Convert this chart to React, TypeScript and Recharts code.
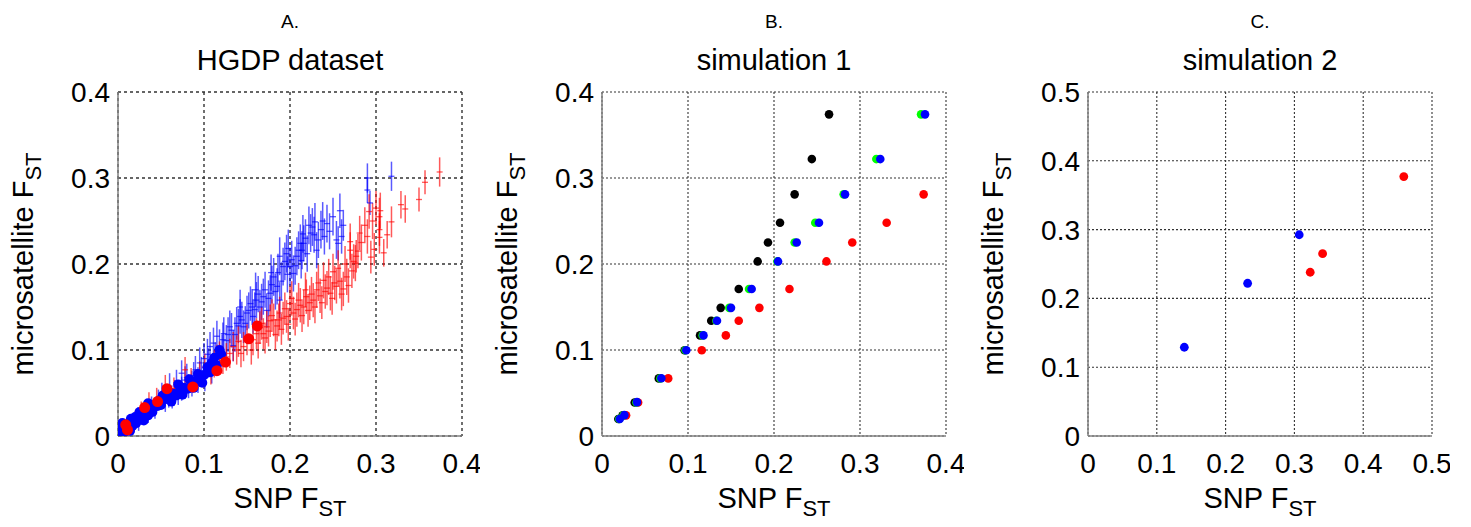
import React from 'react';
import { ScatterChart, Scatter, XAxis, YAxis, CartesianGrid, ErrorBar, Label } from 'recharts';

const FONT = '"Liberation Sans", Arial, Helvetica, sans-serif';

// axis ticks
const ticksA = [0, 0.1, 0.2, 0.3, 0.4];
const ticksB = [0, 0.1, 0.2, 0.3, 0.4];
const ticksC = [0, 0.1, 0.2, 0.3, 0.4, 0.5];

// panel titles
const letters = ['A.', 'B.', 'C.'];
const titles = ['HGDP dataset', 'simulation 1', 'simulation 2'];

// A. HGDP: [snp Fst, microsat Fst, microsat error]
const hgdpBlueBars: number[][] = [
  [0.004, 0.005, 0.006], [0.008, 0.004, 0.005], [0.012, 0.011, 0.008], [0.016, 0.008, 0.007],
  [0.020, 0.017, 0.009], [0.024, 0.014, 0.008], [0.028, 0.023, 0.010], [0.032, 0.029, 0.011],
  [0.035, 0.025, 0.010], [0.039, 0.034, 0.012], [0.043, 0.031, 0.011], [0.047, 0.042, 0.012],
  [0.051, 0.049, 0.013], [0.055, 0.040, 0.012], [0.059, 0.046, 0.013], [0.060, 0.058, 0.015],
  [0.063, 0.044, 0.012], [0.066, 0.052, 0.013], [0.068, 0.062, 0.015], [0.070, 0.050, 0.014],
  [0.074, 0.055, 0.014], [0.074, 0.073, 0.015], [0.078, 0.065, 0.016], [0.080, 0.068, 0.016],
  [0.082, 0.058, 0.014], [0.086, 0.061, 0.015], [0.088, 0.070, 0.016], [0.090, 0.077, 0.016],
  [0.093, 0.065, 0.015], [0.095, 0.085, 0.018], [0.097, 0.075, 0.017], [0.100, 0.090, 0.018],
  [0.101, 0.068, 0.016], [0.104, 0.095, 0.018], [0.105, 0.085, 0.017], [0.107, 0.104, 0.017],
  [0.109, 0.077, 0.016], [0.111, 0.108, 0.018], [0.113, 0.092, 0.017], [0.115, 0.116, 0.018],
  [0.118, 0.104, 0.020], [0.121, 0.100, 0.018], [0.122, 0.112, 0.020], [0.123, 0.119, 0.019],
  [0.126, 0.111, 0.018], [0.128, 0.118, 0.020], [0.130, 0.127, 0.019], [0.132, 0.123, 0.020],
  [0.134, 0.105, 0.018], [0.136, 0.118, 0.020], [0.138, 0.131, 0.019], [0.140, 0.128, 0.020],
  [0.142, 0.139, 0.020], [0.142, 0.150, 0.020], [0.144, 0.135, 0.021], [0.146, 0.127, 0.019],
  [0.148, 0.131, 0.020], [0.150, 0.143, 0.020], [0.152, 0.146, 0.021], [0.154, 0.154, 0.020],
  [0.156, 0.150, 0.021], [0.157, 0.139, 0.020], [0.159, 0.147, 0.020], [0.160, 0.170, 0.020],
  [0.161, 0.158, 0.021], [0.163, 0.165, 0.021], [0.165, 0.150, 0.020], [0.167, 0.156, 0.021],
  [0.169, 0.162, 0.021], [0.171, 0.170, 0.021], [0.173, 0.146, 0.020], [0.175, 0.160, 0.021],
  [0.177, 0.166, 0.021], [0.178, 0.190, 0.021], [0.179, 0.176, 0.022], [0.181, 0.185, 0.022],
  [0.183, 0.168, 0.021], [0.185, 0.174, 0.021], [0.186, 0.190, 0.022], [0.188, 0.158, 0.021],
  [0.188, 0.209, 0.022], [0.190, 0.180, 0.022], [0.192, 0.197, 0.022], [0.194, 0.203, 0.022],
  [0.196, 0.212, 0.022], [0.197, 0.188, 0.021], [0.198, 0.218, 0.022], [0.200, 0.197, 0.022],
  [0.202, 0.205, 0.022], [0.204, 0.189, 0.021], [0.206, 0.198, 0.022], [0.208, 0.209, 0.022],
  [0.210, 0.216, 0.022], [0.212, 0.224, 0.022], [0.213, 0.204, 0.021], [0.214, 0.216, 0.022],
  [0.215, 0.235, 0.022], [0.216, 0.224, 0.021], [0.218, 0.230, 0.022], [0.220, 0.212, 0.021],
  [0.222, 0.245, 0.022], [0.224, 0.236, 0.022], [0.226, 0.243, 0.022], [0.228, 0.234, 0.021],
  [0.229, 0.249, 0.022], [0.231, 0.216, 0.021], [0.233, 0.228, 0.021], [0.236, 0.240, 0.022],
  [0.238, 0.250, 0.022], [0.240, 0.232, 0.021], [0.243, 0.247, 0.022], [0.246, 0.238, 0.021],
  [0.250, 0.255, 0.022], [0.254, 0.228, 0.022], [0.256, 0.224, 0.020], [0.258, 0.262, 0.020],
  [0.260, 0.232, 0.020], [0.262, 0.245, 0.018], [0.290, 0.300, 0.017], [0.290, 0.286, 0.015],
  [0.293, 0.271, 0.014], [0.318, 0.302, 0.017],
];

const hgdpRedBars: number[][] = [
  [0.012, 0.012, 0.008], [0.020, 0.020, 0.009], [0.027, 0.030, 0.010], [0.036, 0.040, 0.011],
  [0.045, 0.044, 0.012], [0.055, 0.058, 0.013], [0.065, 0.055, 0.013], [0.078, 0.077, 0.015],
  [0.085, 0.065, 0.014], [0.095, 0.072, 0.015], [0.101, 0.080, 0.016], [0.108, 0.075, 0.015],
  [0.112, 0.084, 0.016], [0.115, 0.090, 0.016], [0.118, 0.094, 0.016], [0.122, 0.088, 0.016],
  [0.126, 0.092, 0.016], [0.130, 0.096, 0.017], [0.134, 0.104, 0.017], [0.138, 0.100, 0.017],
  [0.140, 0.110, 0.018], [0.143, 0.096, 0.016], [0.146, 0.104, 0.017], [0.150, 0.112, 0.018],
  [0.155, 0.100, 0.017], [0.157, 0.112, 0.018], [0.161, 0.119, 0.018], [0.163, 0.108, 0.018],
  [0.165, 0.126, 0.019], [0.167, 0.131, 0.019], [0.169, 0.119, 0.018], [0.171, 0.114, 0.018],
  [0.173, 0.127, 0.019], [0.175, 0.122, 0.018], [0.177, 0.134, 0.019], [0.179, 0.140, 0.019],
  [0.181, 0.135, 0.019], [0.183, 0.118, 0.018], [0.185, 0.128, 0.018], [0.187, 0.135, 0.019],
  [0.188, 0.143, 0.019], [0.190, 0.124, 0.018], [0.192, 0.137, 0.019], [0.194, 0.148, 0.019],
  [0.196, 0.139, 0.019], [0.198, 0.130, 0.019], [0.200, 0.154, 0.020], [0.202, 0.160, 0.020],
  [0.204, 0.143, 0.019], [0.206, 0.136, 0.019], [0.208, 0.147, 0.020], [0.210, 0.158, 0.020],
  [0.212, 0.152, 0.020], [0.214, 0.140, 0.019], [0.216, 0.150, 0.020], [0.218, 0.170, 0.020],
  [0.219, 0.162, 0.020], [0.221, 0.146, 0.019], [0.223, 0.155, 0.020], [0.225, 0.165, 0.020],
  [0.227, 0.158, 0.020], [0.229, 0.150, 0.019], [0.231, 0.170, 0.021], [0.233, 0.178, 0.021],
  [0.235, 0.163, 0.020], [0.237, 0.155, 0.019], [0.239, 0.181, 0.021], [0.241, 0.168, 0.020],
  [0.243, 0.172, 0.020], [0.245, 0.185, 0.021], [0.247, 0.166, 0.020], [0.249, 0.160, 0.019],
  [0.250, 0.191, 0.021], [0.252, 0.178, 0.020], [0.254, 0.174, 0.020], [0.256, 0.195, 0.021],
  [0.258, 0.180, 0.020], [0.260, 0.165, 0.019], [0.262, 0.171, 0.020], [0.264, 0.200, 0.021],
  [0.266, 0.185, 0.021], [0.268, 0.175, 0.020], [0.270, 0.216, 0.021], [0.270, 0.226, 0.021],
  [0.272, 0.192, 0.020], [0.274, 0.203, 0.020], [0.276, 0.201, 0.021], [0.277, 0.209, 0.019],
  [0.279, 0.215, 0.020], [0.281, 0.236, 0.020], [0.283, 0.225, 0.021], [0.287, 0.245, 0.021],
  [0.290, 0.232, 0.020], [0.292, 0.261, 0.020], [0.294, 0.208, 0.019], [0.296, 0.250, 0.021],
  [0.298, 0.217, 0.019], [0.300, 0.265, 0.020], [0.304, 0.255, 0.022], [0.304, 0.240, 0.019],
  [0.304, 0.231, 0.019], [0.305, 0.262, 0.021], [0.309, 0.213, 0.016], [0.313, 0.234, 0.016],
  [0.318, 0.249, 0.018], [0.329, 0.269, 0.016], [0.334, 0.264, 0.016], [0.350, 0.275, 0.014],
  [0.357, 0.295, 0.014], [0.374, 0.307, 0.017],
];

// A. HGDP: large markers [snp Fst, microsat Fst]
const hgdpBlueDots: number[][] = [
  [0.003, 0.002], [0.005, 0.009], [0.005, 0.015], [0.007, 0.004], [0.010, 0.008], [0.012, 0.014],
  [0.014, 0.006], [0.015, 0.020], [0.017, 0.012], [0.020, 0.022], [0.021, 0.015], [0.024, 0.019],
  [0.025, 0.028], [0.028, 0.022], [0.030, 0.018], [0.031, 0.027], [0.035, 0.024], [0.035, 0.038],
  [0.038, 0.031], [0.040, 0.028], [0.042, 0.036], [0.046, 0.035], [0.049, 0.042], [0.050, 0.036],
  [0.052, 0.047], [0.056, 0.043], [0.058, 0.052], [0.060, 0.045], [0.062, 0.040], [0.064, 0.049],
  [0.068, 0.047], [0.070, 0.060], [0.072, 0.053], [0.075, 0.048], [0.077, 0.056], [0.081, 0.055],
  [0.083, 0.066], [0.086, 0.060], [0.088, 0.056], [0.090, 0.063], [0.093, 0.072], [0.095, 0.066],
  [0.098, 0.062], [0.100, 0.071], [0.104, 0.080], [0.107, 0.074], [0.109, 0.085], [0.112, 0.091],
  [0.115, 0.082], [0.118, 0.100], [0.120, 0.095],
];

const hgdpRedDots: number[][] = [
  [0.009, 0.013], [0.011, 0.007], [0.031, 0.033], [0.046, 0.040], [0.057, 0.055],
  [0.087, 0.057], [0.115, 0.076], [0.125, 0.086], [0.152, 0.113], [0.162, 0.128],
];

// B. simulation 1: [snp Fst, microsat Fst]
const sim1Black: number[][] = [
  [0.264, 0.374], [0.244, 0.322], [0.224, 0.281], [0.207, 0.248], [0.193, 0.225], [0.181, 0.203],
  [0.159, 0.171], [0.138, 0.149], [0.127, 0.134], [0.114, 0.117], [0.096, 0.0997], [0.066, 0.067],
  [0.038, 0.039], [0.024, 0.024], [0.019, 0.0197],
];
const sim1Red: number[][] = [
  [0.374, 0.281], [0.331, 0.248], [0.291, 0.225], [0.261, 0.203], [0.218, 0.171], [0.183, 0.149],
  [0.159, 0.134], [0.144, 0.117], [0.116, 0.0997], [0.077, 0.067], [0.042, 0.039], [0.028, 0.024],
];
const sim1Green: number[][] = [
  [0.371, 0.374], [0.319, 0.322], [0.281, 0.281], [0.248, 0.248], [0.224, 0.225], [0.204, 0.203],
  [0.171, 0.171], [0.148, 0.149], [0.133, 0.134], [0.117, 0.117], [0.097, 0.0997], [0.068, 0.067],
  [0.040, 0.039], [0.025, 0.024], [0.020, 0.0197],
];
const sim1Blue: number[][] = [
  [0.3756, 0.374], [0.3236, 0.322], [0.2826, 0.281], [0.2523, 0.248], [0.2264, 0.225], [0.2047, 0.203],
  [0.174, 0.171], [0.150, 0.149], [0.1337, 0.134], [0.118, 0.117], [0.098, 0.0997], [0.069, 0.0672],
  [0.0407, 0.0394], [0.026, 0.0243], [0.0206, 0.0197],
];

// C. simulation 2
const sim2Blue: number[][] = [[0.140, 0.129], [0.232, 0.222], [0.307, 0.2925]];
const sim2Red: number[][] = [[0.459, 0.377], [0.341, 0.265], [0.323, 0.238]];

const toPts = (arr: number[][]) => arr.map(([x, y]) => ({ x, y }));
const toBars = (arr: number[][]) => arr.map(([x, y, e]) => ({ x, y, ey: e }));

const dot = (color: string, r: number) => (p: any) =>
  <circle cx={p.cx} cy={p.cy} r={r} fill={color} />;

const hbar = (color: string) => (p: any) =>
  <line x1={p.cx - 3} x2={p.cx + 3} y1={p.cy} y2={p.cy} stroke={color} strokeWidth={1.3} />;

const XTitle = () => (
  <text x={290} y={508} textAnchor="middle" fontSize={29} fontFamily={FONT} fill="#000">
    SNP F<tspan fontSize={22} dy={8}>ST</tspan>
  </text>
);

const YTitle = () => (
  <text transform="translate(33, 264) rotate(-90)" textAnchor="middle" fontSize={29} fontFamily={FONT} fill="#000">
    microsatellite F<tspan fontSize={22} dy={8}>ST</tspan>
  </text>
);

function Panel({ left, idx, max, ticks, dash, gridW, children }: any) {
  const tickStyle = { fontSize: 28, fill: '#000', fontFamily: FONT };
  return (
    <div style={{ position: 'absolute', left, top: 0, width: 480, height: 527 }}>
      <ScatterChart width={480} height={527} margin={{ top: 92, right: 18, bottom: 31, left: 0 }}>
        <CartesianGrid stroke="#333" strokeDasharray={dash} strokeWidth={gridW} />
        <XAxis
          type="number" dataKey="x" domain={[0, max]} ticks={ticks} allowDataOverflow
          height={60} tickSize={0} tickMargin={17} tick={tickStyle}
          axisLine={{ stroke: '#808080', strokeWidth: 1.5 }}
          tickFormatter={(v: number) => String(v)}
        >
          <Label content={XTitle} />
        </XAxis>
        <YAxis
          type="number" dataKey="y" domain={[0, max]} ticks={ticks} allowDataOverflow
          width={118} tickSize={0} tickMargin={8} tick={tickStyle}
          axisLine={{ stroke: '#808080', strokeWidth: 1.5 }}
          tickFormatter={(v: number) => String(v)}
        >
          <Label content={YTitle} />
        </YAxis>
        {children}
      </ScatterChart>
      <div style={{ position: 'absolute', left: 118, width: 344, top: 12, textAlign: 'center', fontFamily: FONT, fontSize: 19, lineHeight: '19px' }}>
        {letters[idx]}
      </div>
      <div style={{ position: 'absolute', left: 118, width: 344, top: 46, textAlign: 'center', fontFamily: FONT, fontSize: 29, lineHeight: '29px' }}>
        {titles[idx]}
      </div>
    </div>
  );
}

const blueLine = 'rgba(0,0,255,0.65)';
const redLine = 'rgba(255,0,0,0.65)';

export default function App() {
  return (
    <div style={{ position: 'absolute', left: 0, top: 0, width: 1471, height: 527, background: '#fff' }}>
      <Panel left={0} idx={0} max={0.4} ticks={ticksA} dash="3 3" gridW={1.4}>
        <Scatter data={toBars(hgdpBlueBars)} shape={hbar(blueLine)} isAnimationActive={false}>
          <ErrorBar dataKey="ey" direction="y" width={0} stroke={blueLine} strokeWidth={1.5} />
        </Scatter>
        <Scatter data={toBars(hgdpRedBars)} shape={hbar(redLine)} isAnimationActive={false}>
          <ErrorBar dataKey="ey" direction="y" width={0} stroke={redLine} strokeWidth={1.5} />
        </Scatter>
        <Scatter data={toPts(hgdpBlueDots)} shape={dot('#0000ff', 5)} isAnimationActive={false} />
        <Scatter data={toPts(hgdpRedDots)} shape={dot('#ff0000', 5.5)} isAnimationActive={false} />
      </Panel>
      <Panel left={484} idx={1} max={0.4} ticks={ticksB} dash="2 2" gridW={1.1}>
        <Scatter data={toPts(sim1Black)} shape={dot('#000000', 4.3)} isAnimationActive={false} />
        <Scatter data={toPts(sim1Red)} shape={dot('#ff0000', 4.3)} isAnimationActive={false} />
        <Scatter data={toPts(sim1Green)} shape={dot('#00ff00', 4.3)} isAnimationActive={false} />
        <Scatter data={toPts(sim1Blue)} shape={dot('#0000ff', 4.3)} isAnimationActive={false} />
      </Panel>
      <Panel left={970} idx={2} max={0.5} ticks={ticksC} dash="2 2" gridW={1.1}>
        <Scatter data={toPts(sim2Blue)} shape={dot('#0000ff', 4.4)} isAnimationActive={false} />
        <Scatter data={toPts(sim2Red)} shape={dot('#ff0000', 4.4)} isAnimationActive={false} />
      </Panel>
    </div>
  );
}
